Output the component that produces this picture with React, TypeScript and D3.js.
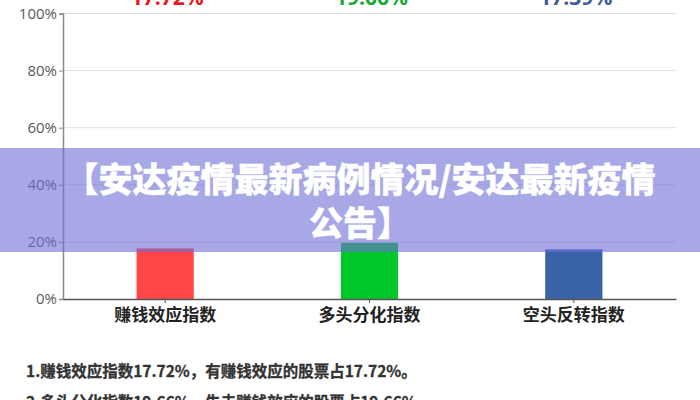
import React, { useEffect, useRef } from 'react';
import * as d3 from 'd3';

const categories = ['赚钱效应指数', '多头分化指数', '空头反转指数'];
const values = [17.72, 19.66, 17.39];
const yTicks = [0, 20, 40, 60, 80, 100];
const barColors = ['#ff4646', '#00c82a', '#3a62a7'];
const labelColors = ['#e8191e', '#1fa53b', '#3e5e9a'];
const notes = [
  '1.赚钱效应指数17.72%，有赚钱效应的股票占17.72%。',
  '2.多头分化指数19.66%，失去赚钱效应的股票占19.66%。',
];
const bannerLines = ['【安达疫情最新病例情况/安达最新疫情', '公告】'];

export default function App() {
  const svgRef = useRef<SVGSVGElement>(null);

  useEffect(() => {
    if (!svgRef.current) return;
    const svg = d3.select(svgRef.current);
    svg.selectAll('*').remove();

    const width = 700;
    const height = 400;
    const left = 63;
    const right = 676;
    const top = 13.5;
    const bottom = 299;
    const cjk = '"Noto Sans CJK SC", "Noto Sans", sans-serif';

    svg.attr('width', width).attr('height', height);
    svg.append('rect').attr('width', width).attr('height', height).attr('fill', '#fff');

    const x = d3
      .scaleBand()
      .domain(categories)
      .range([left, right])
      .paddingInner(0.72)
      .paddingOuter(0.36);
    const y = d3.scaleLinear().domain([0, 100]).range([bottom, top]);

    // grid lines
    svg
      .append('g')
      .selectAll('line')
      .data(yTicks.filter((t) => t > 0))
      .join('line')
      .attr('x1', left)
      .attr('x2', right)
      .attr('y1', (d) => y(d))
      .attr('y2', (d) => y(d))
      .attr('stroke', '#dedede')
      .attr('stroke-width', 1);

    // y axis
    const yAxis = svg
      .append('g')
      .attr('transform', `translate(${left},0)`)
      .call(
        d3
          .axisLeft(y)
          .tickValues(yTicks)
          .tickSize(4)
          .tickFormat((d) => `${d}%`)
      );
    yAxis.select('.domain').attr('stroke', '#8a8a8a').attr('stroke-width', 1.5);
    yAxis.selectAll('.tick line').attr('stroke', '#8a8a8a');
    yAxis
      .selectAll('.tick text')
      .attr('fill', '#5a5a5a')
      .attr('font-size', '15px')
      .attr('font-family', '"Open Sans", "Noto Sans", sans-serif')
      .attr('x', -6);

    // bars
    svg
      .append('g')
      .selectAll('rect')
      .data(values)
      .join('rect')
      .attr('x', (_, i) => x(categories[i])!)
      .attr('y', (d) => y(d))
      .attr('width', x.bandwidth())
      .attr('height', (d) => bottom - y(d))
      .attr('fill', (_, i) => barColors[i]);

    // x axis
    const xAxis = svg
      .append('g')
      .attr('transform', `translate(0,${bottom})`)
      .call(d3.axisBottom(x).tickSize(4).tickSizeOuter(0));
    xAxis.select('.domain').attr('stroke', '#555').attr('stroke-width', 1.5);
    xAxis.selectAll('.tick line').attr('stroke', '#555');
    xAxis
      .selectAll('.tick text')
      .attr('fill', '#222')
      .attr('font-size', '17px')
      .attr('font-weight', 'bold')
      .attr('font-family', cjk)
      .attr('y', 10);

    // value labels at the top (cut off by the frame, as in the source image)
    svg
      .append('g')
      .selectAll('text')
      .data(values)
      .join('text')
      .attr('x', (_, i) => x(categories[i])! + x.bandwidth() / 2 + 2)
      .attr('y', 4.5)
      .attr('text-anchor', 'middle')
      .attr('fill', (_, i) => labelColors[i])
      .attr('font-size', '21px')
      .attr('font-weight', 'bold')
      .attr('font-family', '"Open Sans", "Noto Sans", sans-serif')
      .text((d) => `${d.toFixed(2)}%`);

    // notes below the chart
    svg
      .append('g')
      .selectAll('text')
      .data(notes)
      .join('text')
      .attr('x', 26)
      .attr('y', (_, i) => 377 + i * 31)
      .attr('fill', '#333')
      .attr('stroke', '#333')
      .attr('stroke-width', 0.3)
      .attr('font-size', '15.5px')
      .attr('font-weight', 'bold')
      .attr('font-family', cjk)
      .text((d) => d);

    // banner overlay
    svg
      .append('rect')
      .attr('x', 0)
      .attr('y', 148)
      .attr('width', width)
      .attr('height', 104)
      .attr('fill', 'rgb(110,110,215)')
      .attr('opacity', 0.6);

    svg
      .append('g')
      .selectAll('text')
      .data(bannerLines)
      .join('text')
      .attr('x', 360)
      .attr('y', (_, i) => 192 + i * 44)
      .attr('text-anchor', 'middle')
      .attr('fill', '#fff')
      .attr('stroke', '#fff')
      .attr('stroke-width', 0.4)
      .attr('font-size', '34px')
      .attr('font-weight', 900)
      .attr('font-family', cjk)
      .text((d) => d);
  }, []);

  return (
    <svg
      ref={svgRef}
      style={{ position: 'absolute', left: 0, top: 0, display: 'block' }}
    ></svg>
  );
}
